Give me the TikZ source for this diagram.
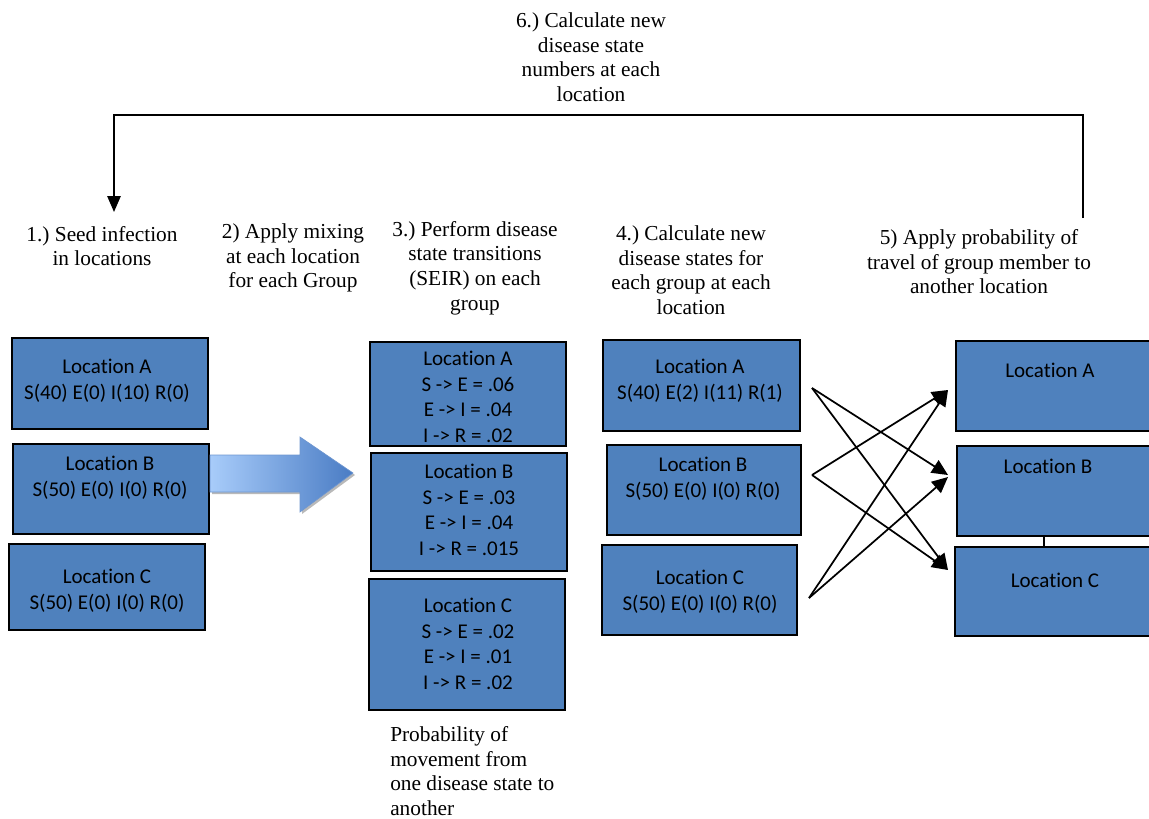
\documentclass[tikz,border=0pt]{standalone}
\usepackage{fontspec}
\setmainfont{Liberation Serif}
\newfontfamily\boxfont[Ligatures=NoCommon]{Carlito}
\usetikzlibrary{arrows.meta,fit}
\frenchspacing

\definecolor{boxblue}{HTML}{4F81BD}
\definecolor{arrowlight}{HTML}{A8CCFA}
\definecolor{arrowdark}{HTML}{4A7CC4}

\begin{document}
\begin{tikzpicture}[x=0.75pt,y=-0.75pt,
  loc/.style={draw=black, line width=1.5pt, fill=boxblue, inner sep=0pt},
  loctext/.style={font=\boxfont\fontsize{15.75}{19.5}\selectfont, align=center, inner sep=0pt},
  ratetext/.style={font=\boxfont\fontsize{15.75}{19.2}\selectfont, align=center, inner sep=0pt},
  stepnote/.style={font=\fontsize{16}{18.4}\selectfont, align=center, inner sep=0pt},
  travel/.style={line width=1.3pt, -{Triangle[length=12pt,width=11pt]}},
  loop/.style={line width=1.4pt},
]
\useasboundingbox (0,0) rectangle (1149,818);
\clip (0,0) rectangle (1149,818);

% step captions
\node[stepnote] (s6) at (591,57) {6.) Calculate new\\disease state\\numbers at each\\location};
\node[stepnote] (s1) at (102,246) {1.) Seed infection\\in locations};
\node[stepnote] (s2) at (293,258) {2) Apply mixing\\at each location\\for each Group};
\node[stepnote] (s3) at (475,268) {3.) Perform disease\\state transitions\\(SEIR) on each\\group};
\node[stepnote] (s4) at (691,270) {4.) Calculate new\\disease states for\\each group at each\\location};
\node[stepnote] (s5) at (979,262) {5) Apply probability of\\travel of group member to\\another location};
\node[stepnote, align=left, anchor=west] (note) at (390,771) {Probability of\\movement from\\one disease state to\\another};

% column 1: seeded locations
\node[loc, fit={(12,338) (208,429)}] (a1) {};
\node[loc, fit={(13,444) (209,534)}] (b1) {};
\node[loc, fit={(9,544) (205,630)}] (c1) {};
\node[loctext] (a1t) at (107,381) {Location A\\S(40) E(0) I(10) R(0)};
\node[loctext] (b1t) at (110,478) {Location B\\S(50) E(0) I(0) R(0)};
\node[loctext] (c1t) at (107,591) {Location C\\S(50) E(0) I(0) R(0)};

% mixing arrow with a soft shadow
\fill[gray!55] (212,457) -- (302,457) -- (302,439) -- (355,475) -- (302,514) -- (302,494) -- (212,494) -- cycle;
\shade[left color=arrowlight, right color=arrowdark, draw=arrowdark!80, line width=0.5pt]
  (210,455) -- (300,455) -- (300,437) -- (353,473) -- (300,512) -- (300,492) -- (210,492) -- cycle;

% column 3: transition probabilities
\node[loc, fit={(370,342) (566,446)}] (a3) {};
\node[loc, fit={(371,453) (567,571)}] (b3) {};
\node[loc, fit={(369,579) (565,710)}] (c3) {};
\node[ratetext] (a3t) at (468,397) {Location A\\S -> E = .06\\E -> I = .04\\I -> R = .02};
\node[ratetext] (b3t) at (469,510) {Location B\\S -> E = .03\\E -> I = .04\\I -> R = .015};
\node[ratetext] (c3t) at (468,644) {Location C\\S -> E = .02\\E -> I = .01\\I -> R = .02};

% column 4: updated states
\node[loc, fit={(603,340) (800,431)}] (a4) {};
\node[loc, fit={(607,445) (801,535)}] (b4) {};
\node[loc, fit={(602,545) (797,635)}] (c4) {};
\node[loctext] (a4t) at (700,381) {Location A\\S(40) E(2) I(11) R(1)};
\node[loctext] (b4t) at (703,479) {Location B\\S(50) E(0) I(0) R(0)};
\node[loctext] (c4t) at (700,592) {Location C\\S(50) E(0) I(0) R(0)};

% column 5: destinations of travel
\node[loc, fit={(956,341) (1175,431)}] (a5) {};
\node[loc, fit={(957,446) (1175,536)}] (b5) {};
\node[loc, fit={(955,547) (1175,636)}] (c5) {};
\node[loctext] (a5t) at (1050,370) {Location A};
\node[loctext] (b5t) at (1048,466) {Location B};
\node[loctext] (c5t) at (1055,580) {Location C};
\draw[line width=0.8pt] (b5.south -| 1044,0) -- (c5.north -| 1044,0);

% travel arrows
\coordinate (sa) at (812,388);
\coordinate (sb) at (812,475);
\coordinate (sc) at (809,598);
\coordinate (ta) at (948,390);
\coordinate (tb) at (948,475);
\coordinate (tb2) at (948,477);
\coordinate (tc) at (948,570);
\draw[travel] (sa) -- (tb);
\draw[travel] (sa) -- (tc);
\draw[travel] (sb) -- (ta);
\draw[travel] (sb) -- (tc);
\draw[travel] (sc) -- (ta);
\draw[travel] (sc) -- (tb2);

% feedback loop back to the start
\coordinate (loopfrom) at (1083,218);
\coordinate (loopright) at (1083,115);
\coordinate (loopleft) at (114,115);
\coordinate (loopto) at (114,212);
\draw[loop, -{Triangle[length=12pt,width=10pt]}] (loopfrom) -- (loopright) -- (loopleft) -- (loopto);
\end{tikzpicture}
\end{document}
